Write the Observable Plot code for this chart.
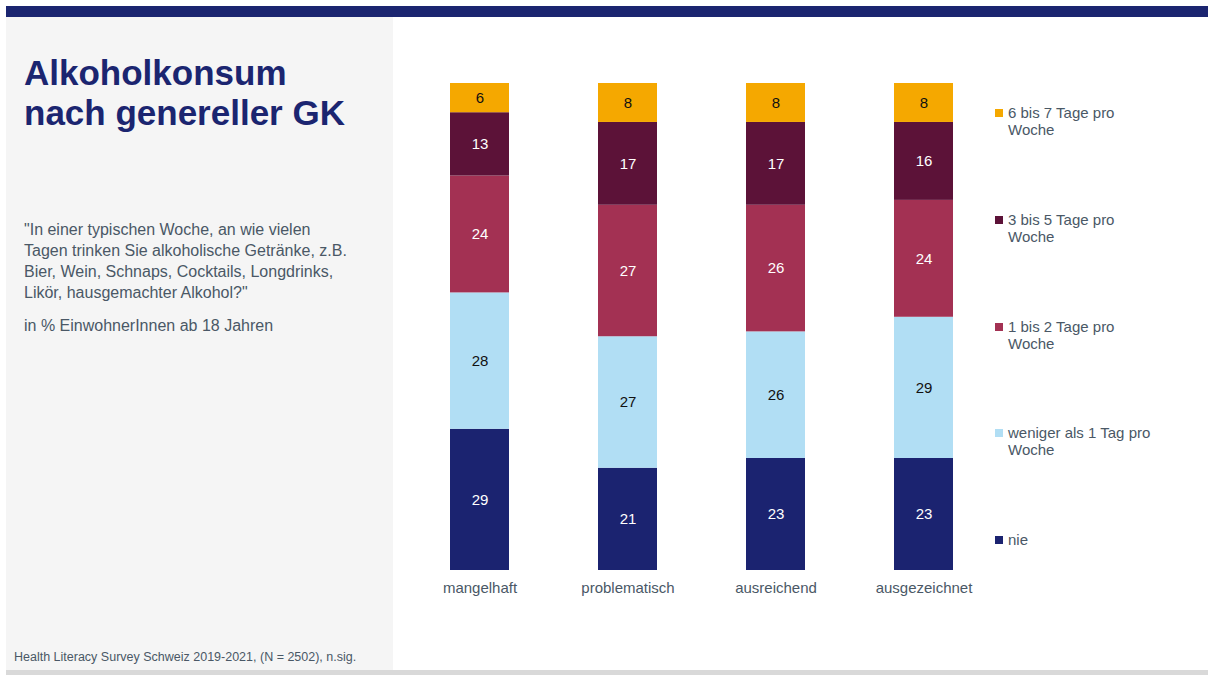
<!DOCTYPE html>
<html>
<head>
<meta charset="utf-8">
<script src="https://cdn.jsdelivr.net/npm/d3@7"></script>
<script src="https://cdn.jsdelivr.net/npm/@observablehq/plot@0.6"></script>
<style>
  html, body { margin: 0; padding: 0; background: #ffffff; }
  body { width: 1208px; height: 675px; position: relative; overflow: hidden; font-family: "Liberation Sans", Arial, sans-serif; }
  #topbar { position: absolute; left: 6px; top: 6px; width: 1202px; height: 11px; background: #1b2570; }
  #panel { position: absolute; left: 6px; top: 17px; width: 387px; height: 653px; background: #f5f5f5; }
  #bottomline { position: absolute; left: 6px; top: 670px; width: 1202px; height: 5px; background: #d9d9d9; }
  #title { position: absolute; left: 24px; top: 53px; margin: 0; font-size: 35px; line-height: 40px; font-weight: bold; color: #1b2570; }
  #subtitle { position: absolute; left: 24px; top: 219px; margin: 0; font-size: 16px; line-height: 21px; color: #4a5866; }
  #unit { position: absolute; left: 24px; top: 315px; margin: 0; font-size: 16px; line-height: 21px; color: #4a5866; }
  #caption { position: absolute; left: 14px; top: 649px; margin: 0; font-size: 12.5px; line-height: 16px; color: #4a5866; }
  #chart { position: absolute; left: 393px; top: 17px; }
  #legend { position: absolute; left: 995px; top: 0; }
  .item { position: absolute; left: 0; width: 170px; }
  .sw { position: absolute; left: 0; top: 5px; width: 8px; height: 8px; }
  .lab { position: absolute; left: 13px; top: 0; width: 152px; font-size: 15px; line-height: 17px; color: #4a5866; }
</style>
</head>
<body>
<div id="topbar"></div>
<div id="panel"></div>
<div id="bottomline"></div>
<h1 id="title">Alkoholkonsum<br>nach genereller GK</h1>
<p id="subtitle">"In einer typischen Woche, an wie vielen<br>Tagen trinken Sie alkoholische Getränke, z.B.<br>Bier, Wein, Schnaps, Cocktails, Longdrinks,<br>Likör, hausgemachter Alkohol?"</p>
<p id="unit">in % EinwohnerInnen ab 18 Jahren</p>
<p id="caption">Health Literacy Survey Schweiz 2019-2021, (N = 2502), n.sig.</p>
<div id="chart"></div>
<div id="legend"></div>
<script>
// Categories (x axis)
const categories = ["mangelhaft", "problematisch", "ausreichend", "ausgezeichnet"];
// Series, from bottom of the stack to the top
const series = ["nie", "weniger als 1 Tag pro Woche", "1 bis 2 Tage pro Woche", "3 bis 5 Tage pro Woche", "6 bis 7 Tage pro Woche"];
const colors = ["#1b2370", "#b1def4", "#a33153", "#5c1238", "#f5a800"];
// Values per series (in %), one per category
const nie          = [29, 21, 23, 23];
const weniger      = [28, 27, 26, 29];
const einBisZwei   = [24, 27, 26, 24];
const dreiBisFuenf = [13, 17, 17, 16];
const sechsBisSieben = [6, 8, 8, 8];
const seriesValues = [nie, weniger, einBisZwei, dreiBisFuenf, sechsBisSieben];
const darkLabelSeries = ["weniger als 1 Tag pro Woche", "6 bis 7 Tage pro Woche"];

const data = [];
series.forEach((s, si) => {
  categories.forEach((c, ci) => {
    data.push({cat: c, series: s, value: seriesValues[si][ci]});
  });
});

const stackOpts = {x: "cat", y: "value", z: "series", order: series};

const chart = Plot.plot({
  width: 620,
  height: 600,
  marginTop: 66,
  marginBottom: 47,
  marginLeft: 27,
  marginRight: 30,
  style: {fontFamily: "'Liberation Sans', Arial, sans-serif", fontSize: "15px", color: "#4a5866", background: "transparent"},
  x: {domain: categories, paddingInner: 0.6, paddingOuter: 0.2, label: null, tickSize: 0, tickPadding: 12},
  y: {domain: [0, 100], axis: null},
  color: {domain: series, range: colors},
  marks: [
    Plot.barY(data, {...stackOpts, fill: "series"}),
    Plot.text(data, Plot.stackY({...stackOpts, text: d => darkLabelSeries.includes(d.series) ? "" : String(d.value), fill: "#ffffff", fontSize: 15})),
    Plot.text(data, Plot.stackY({...stackOpts, text: d => darkLabelSeries.includes(d.series) ? String(d.value) : "", fill: "#111111", fontSize: 15}))
  ]
});
document.getElementById("chart").appendChild(chart);

// Legend, top of stack first
const legendTops = [104, 211, 318, 424, 531];
const legend = document.getElementById("legend");
series.slice().reverse().forEach((s, i) => {
  const idx = series.indexOf(s);
  const item = document.createElement("div");
  item.className = "item";
  item.style.top = legendTops[i] + "px";
  const sw = document.createElement("div");
  sw.className = "sw";
  sw.style.background = colors[idx];
  const lab = document.createElement("div");
  lab.className = "lab";
  lab.textContent = s;
  item.appendChild(sw);
  item.appendChild(lab);
  legend.appendChild(item);
});
</script>
</body>
</html>
